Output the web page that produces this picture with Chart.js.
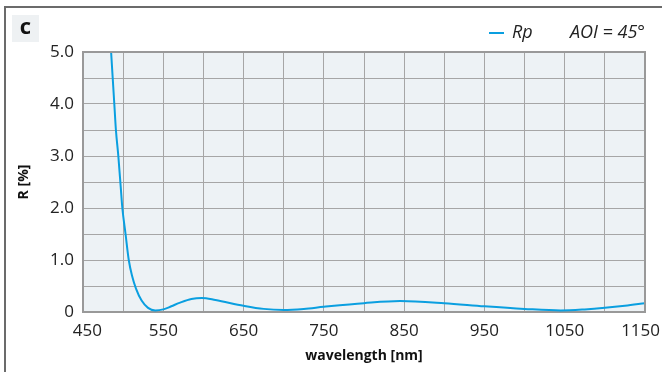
<!DOCTYPE html>
<html>
<head>
<meta charset="utf-8">
<script src="https://cdn.jsdelivr.net/npm/chart.js@4.4.0/dist/chart.umd.min.js"></script>
<style>
  html, body { margin: 0; padding: 0; background: #fff; }
  #wrap { width: 662px; height: 372px; }
</style>
</head>
<body>
<div id="wrap"><canvas id="chart" width="662" height="372"></canvas></div>
<script>
// wavelength (nm) and reflectance Rp (%)
const wavelengths = [485, 487, 489, 491, 494, 497, 499, 503, 507, 511, 516, 523, 531, 540, 550, 560, 571, 585, 598, 615, 650, 675, 700, 725, 750, 800, 845, 900, 950, 1000, 1045, 1075, 1100, 1125, 1150]
const reflectance = [5.0, 4.5, 4.0, 3.5, 3.0, 2.4, 2.0, 1.5, 1.0, 0.7, 0.45, 0.22, 0.08, 0.03, 0.05, 0.11, 0.18, 0.25, 0.27, 0.23, 0.12, 0.06, 0.04, 0.06, 0.10, 0.17, 0.21, 0.17, 0.11, 0.06, 0.03, 0.05, 0.08, 0.12, 0.17]

const seriesLabel = 'Rp'
const noteText = 'AOI = 45°'
const panelLabel = 'c'
const xTitle = 'wavelength [nm]'
const yTitle = 'R [%]'

const fontFamily = '"Open Sans", "Noto Sans", sans-serif'
const lineColor = '#0a9fe0'
const gridColor = '#a6a6a6'

// edge labels sit a little inside the plot, like the original
const xLabel = v => {
  if ((v - 450) % 100 !== 0) return ''
  if (v === 450) return '  450'
  if (v === 1150) return '1150  '
  return String(v)
}

// background, frame, panel letter and legend
const decorPlugin = {
  id: 'decor',
  beforeDraw(chart) {
    const {ctx, chartArea: a} = chart
    ctx.save()
    ctx.fillStyle = '#edf2f5'
    ctx.fillRect(a.left, a.top, a.right - a.left, a.bottom - a.top)
    ctx.restore()
  },
  afterDraw(chart) {
    const {ctx, chartArea: a} = chart
    ctx.save()
    // plot frame on the top and right
    ctx.strokeStyle = '#999'
    ctx.lineWidth = 2
    ctx.beginPath()
    ctx.moveTo(a.left, a.top)
    ctx.lineTo(a.right, a.top)
    ctx.lineTo(a.right, a.bottom)
    ctx.stroke()

    // outer frame (top and left)
    ctx.strokeStyle = '#6b6b6b'
    ctx.beginPath()
    ctx.moveTo(662, 7)
    ctx.lineTo(5, 7)
    ctx.lineTo(5, 372)
    ctx.stroke()

    // panel letter box
    ctx.fillStyle = '#eef1f3'
    ctx.fillRect(12, 15, 27, 27)
    ctx.fillStyle = '#111'
    ctx.font = 'bold 22px ' + fontFamily
    ctx.textAlign = 'center'
    ctx.textBaseline = 'middle'
    ctx.fillText(panelLabel, 25.5, 28)

    // legend
    ctx.strokeStyle = lineColor
    ctx.lineWidth = 2
    ctx.beginPath()
    ctx.moveTo(489, 33)
    ctx.lineTo(504, 33)
    ctx.stroke()
    ctx.fillStyle = '#222'
    ctx.font = 'italic 18px ' + fontFamily
    ctx.textAlign = 'left'
    ctx.textBaseline = 'middle'
    ctx.fillText(seriesLabel, 512, 33)
    ctx.textAlign = 'right'
    ctx.fillText(noteText, 645, 33)
    ctx.restore()
  }
}

new Chart(document.getElementById('chart'), {
  type: 'line',
  data: {
    datasets: [{
      label: seriesLabel,
      data: wavelengths.map((w, i) => ({x: w, y: reflectance[i]})),
      borderColor: lineColor,
      borderWidth: 2,
      pointRadius: 0,
      fill: false,
      cubicInterpolationMode: 'monotone'
    }]
  },
  options: {
    responsive: false,
    animation: false,
    devicePixelRatio: 1,
    layout: { padding: { left: 5, top: 52, right: 17, bottom: 0 } },
    plugins: { legend: { display: false }, tooltip: { enabled: false } },
    scales: {
      x: {
        type: 'linear',
        min: 450,
        max: 1150,
        afterFit: s => { s.height = 60; s.paddingLeft = 0; s.paddingRight = 0 },
        ticks: {
          stepSize: 50,
          autoSkip: false,
          maxRotation: 0,
          padding: 9,
          color: '#222',
          font: { family: fontFamily, size: 17 },
          callback: xLabel
        },
        grid: { color: gridColor, lineWidth: 1, drawTicks: false },
        border: { color: '#999', width: 2 },
        title: {
          display: true,
          text: xTitle,
          color: '#111',
          font: { family: fontFamily, size: 14, weight: 'bold' },
          padding: { top: 0, bottom: 8 }
        }
      },
      y: {
        min: 0,
        max: 5,
        afterFit: s => { s.width = 78; s.paddingTop = 0; s.paddingBottom = 0 },
        ticks: {
          stepSize: 0.5,
          autoSkip: false,
          padding: 9,
          color: '#222',
          font: { family: fontFamily, size: 17 },
          callback: v => (v === 0 ? '0' : (v % 1 === 0 ? v.toFixed(1) : ''))
        },
        grid: { color: gridColor, lineWidth: 1, drawTicks: false },
        border: { color: '#999', width: 2 },
        title: {
          display: true,
          text: yTitle,
          color: '#111',
          font: { family: fontFamily, size: 14, weight: 'bold' },
          padding: { top: 11, bottom: 0 }
        }
      }
    }
  },
  plugins: [decorPlugin]
})
</script>
</body>
</html>
